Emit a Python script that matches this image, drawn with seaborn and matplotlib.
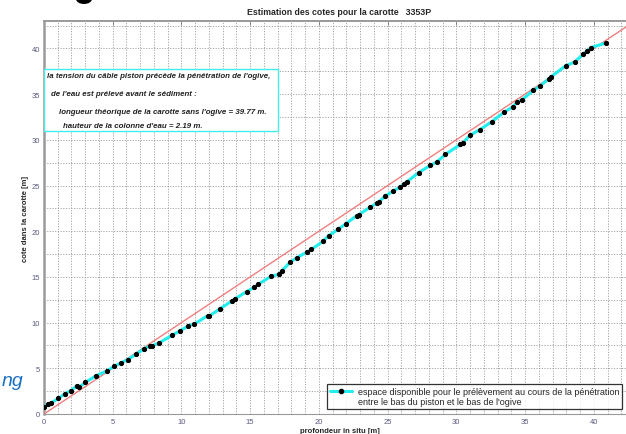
import matplotlib
matplotlib.use("Agg")
import matplotlib.pyplot as plt
import seaborn as sns
from matplotlib.lines import Line2D
from matplotlib.patches import Rectangle, Ellipse
from matplotlib.ticker import MultipleLocator

# Données
profondeur = [0.0, 0.3, 0.5, 1.05, 1.5, 1.95, 2.4, 2.55, 3.0, 3.8, 4.55, 5.1, 5.6, 6.1,
              6.7, 7.25, 7.7, 7.85, 8.4, 9.3, 9.9, 10.5, 10.95, 11.9, 12.0, 12.8, 13.7,
              13.9, 14.75, 15.3, 15.6, 16.5, 17.1, 17.3, 17.9, 18.4, 19.1, 19.45, 20.3,
              20.7, 21.4, 21.95, 22.75, 22.9, 23.7, 24.25, 24.35, 24.8, 25.4, 25.9, 26.2,
              26.4, 27.25, 28.1, 28.6, 29.2, 30.3, 30.5, 31.0, 31.7, 32.6, 33.45, 34.1,
              34.4, 34.8, 35.6, 36.1, 36.75, 36.9, 37.95, 38.6, 39.25, 39.5, 39.8, 40.9]
cote = [0.75, 1.1, 1.2, 1.7, 2.2, 2.55, 3.1, 2.9, 3.45, 4.2, 4.7, 5.2, 5.6, 5.95,
        6.55, 7.1, 7.45, 7.45, 7.8, 8.6, 9.1, 9.65, 9.85, 10.75, 10.7, 11.5, 12.4,
        12.6, 13.4, 13.85, 14.2, 15.05, 15.3, 15.65, 16.6, 17.1, 17.7, 18.0, 18.9,
        19.5, 20.2, 20.8, 21.7, 21.8, 22.6, 23.1, 23.2, 23.8, 24.4, 24.8, 25.2,
        25.4, 26.4, 27.2, 27.6, 28.4, 29.5, 29.7, 30.5, 31.1, 32.0, 33.0, 33.6,
        34.1, 34.4, 35.4, 35.9, 36.7, 36.9, 38.1, 38.5, 39.4, 39.7, 40.1, 40.6]

# droite de référence cote = profondeur
ref_x = [0, 43]
ref_y = [0, 43]

x_ticks = [0, 5, 10, 15, 20, 25, 30, 35, 40]
y_ticks = [0, 5, 10, 15, 20, 25, 30, 35, 40]

titre = "Estimation des cotes pour la carotte   3353P"
lignes_texte = [
    "la tension du câble piston précède la pénétration de l'ogive,",
    "de l'eau est prélevé avant le sédiment :",
    "longueur théorique de la carotte sans l'ogive = 39.77 m.",
    "hauteur de la colonne d'eau = 2.19 m.",
]
legende = [
    "espace disponible pour le prélèvement au cours de la pénétration",
    "entre le bas du piston et le bas de l'ogive",
]

sns.set_style("white")
plt.rcParams['font.family'] = ['Liberation Sans', 'DejaVu Sans']

fig = plt.figure(figsize=(6.26, 4.35), dpi=100)
ax = fig.add_axes([44 / 626, 20 / 435, 591 / 626, 393 / 435])

# --- courbes ---
sns.lineplot(x=ref_x, y=ref_y, ax=ax, color="#f07f7f", linewidth=1.0, zorder=3)
sns.lineplot(x=profondeur, y=cote, ax=ax, color="#22eeee", linewidth=2.2,
             marker="o", markersize=3.0, markerfacecolor="black",
             markeredgecolor="black", sort=False, zorder=4)

ax.set_xlim(0, 43)
ax.set_ylim(0, 43)
ax.set_xticks(x_ticks)
ax.set_yticks(y_ticks)
ax.xaxis.set_minor_locator(MultipleLocator(1))
ax.yaxis.set_minor_locator(MultipleLocator(2.5))

grille = dict(color="#8a8a8a", linestyle=(0, (1.5, 2)), linewidth=0.55)
ax.grid(True, which="major", **grille)
ax.grid(True, which="minor", **grille)
ax.set_axisbelow(True)

ax.tick_params(axis="both", which="major", direction="in", length=3, width=0.6,
               labelsize=5.5, labelcolor="#5a5a80", color="#777777",
               top=True, right=True, pad=3)
ax.tick_params(axis="both", which="minor", length=0)

for cote_ax in ["left", "top", "bottom", "right"]:
    ax.spines[cote_ax].set_color("#9a9a9a")
ax.spines["left"].set_linewidth(1.8)
ax.spines["top"].set_linewidth(1.4)
ax.spines["bottom"].set_linewidth(0.8)

ax.set_title(titre, fontsize=6.3, fontweight="bold", pad=5)
ax.set_xlabel("profondeur in situ [m]", fontsize=5.5, fontweight="bold", labelpad=1)
ax.set_ylabel("cote dans la carotte [m]", fontsize=5.5, fontweight="bold", labelpad=2)

# --- encadré de texte ---
ax.add_patch(Rectangle((0.0, 0.72), 0.396, 0.158, transform=ax.transAxes,
                       facecolor="white", edgecolor="#44eeee", linewidth=1.0, zorder=5))
pos_texte = [(47, 77), (51, 94), (59, 112), (63, 127)]
for (px, py), ligne in zip(pos_texte, lignes_texte):
    fig.text(px / 626, 1 - py / 435, ligne, fontsize=5.7, fontstyle="italic",
             fontweight="bold", va="center", ha="left", color="#222222", zorder=6)

# --- légende ---
poignees = [
    Line2D([], [], color="#22eeee", linewidth=2.2, marker="o", markersize=3,
           markerfacecolor="black", markeredgecolor="black"),
    Line2D([], [], color="none"),
]
leg = ax.legend(poignees, legende, loc="lower left", bbox_to_anchor=(0.479, 0.013),
                fontsize=6.45, frameon=True, fancybox=False, handlelength=2.5,
                handletextpad=0.6, labelspacing=0.12, borderpad=0.3, borderaxespad=0)
leg.get_frame().set_edgecolor("black")
leg.get_frame().set_linewidth(0.9)
leg.set_zorder(7)

# --- restes de la diapositive ---
fig.text(2 / 626, 1 - 382 / 435, "ng", fontsize=14, fontstyle="italic",
         color="#1a6fc0", va="center", ha="left")
fig.patches.append(Ellipse((84 / 626, 1.0), 16 / 626, 10 / 435,
                           transform=fig.transFigure, facecolor="black",
                           edgecolor="none"))

fig.savefig("out.png", dpi=100)
